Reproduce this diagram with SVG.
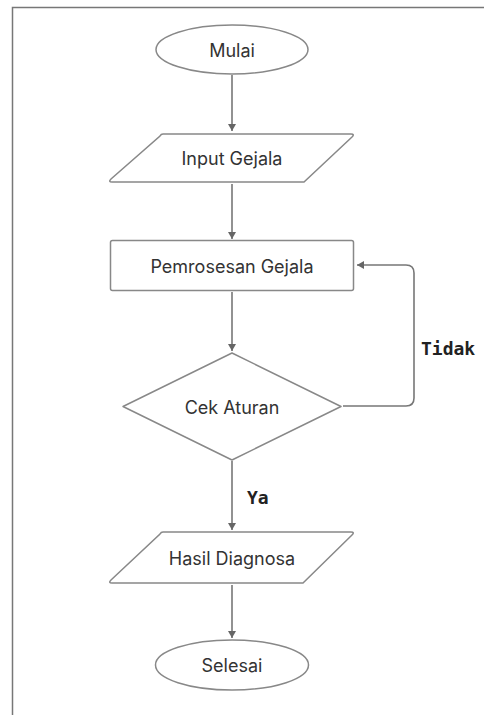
<svg xmlns="http://www.w3.org/2000/svg" width="484" height="715" viewBox="0 0 484 715">
<defs>
<marker id="arr" markerWidth="10" markerHeight="10" refX="8" refY="5" orient="auto" markerUnits="userSpaceOnUse">
<path d="M1,1 L8,5 L1,9 Z" fill="#666"/>
</marker>
<style>
.node{fill:#fff;stroke:#888;stroke-width:1.5}
.lbl{font-family:Inter,"Liberation Sans",sans-serif;font-size:18px;fill:#333;text-anchor:middle;dominant-baseline:central}
.edge{fill:none;stroke:#777;stroke-width:1.6}
.elbl{font-family:"DejaVu Sans Mono","Liberation Mono",monospace;font-size:18px;font-weight:bold;fill:#222}
</style>
</defs>
<rect x="0" y="0" width="484" height="715" fill="#fff"/>
<path d="M12.5,715 V7.5 H484" fill="none" stroke="#777" stroke-width="1.5"/>
<g id="edges">
<line class="edge" x1="232" y1="75" x2="232" y2="131" marker-end="url(#arr)"/>
<line class="edge" x1="232" y1="184" x2="232" y2="239" marker-end="url(#arr)"/>
<line class="edge" x1="232" y1="292" x2="232" y2="351" marker-end="url(#arr)"/>
<path class="edge" d="M343,406 H406 Q414,406 414,398 V273 Q414,265 406,265 H357" marker-end="url(#arr)"/>
<line class="edge" x1="232" y1="461" x2="232" y2="530" marker-end="url(#arr)"/>
<line class="edge" x1="232" y1="585" x2="232" y2="638" marker-end="url(#arr)"/>
<text class="elbl" x="421" y="355">Tidak</text>
<text class="elbl" x="247" y="504">Ya</text>
</g>
<g id="mulai">
<ellipse class="node" cx="232" cy="49.5" rx="76" ry="24.5"/>
<text class="lbl" x="232" y="50">Mulai</text>
</g>
<g id="input">
<path class="node" d="M163,134 H351 Q355,134 352,137 L304,182 H112 Q108,182 111,179 L160,136 Q161,134 163,134 Z"/>
<text class="lbl" x="232" y="158">Input Gejala</text>
</g>
<g id="proses">
<rect class="node" x="110.5" y="240.5" width="243" height="50" rx="2"/>
<text class="lbl" x="232" y="266">Pemrosesan Gejala</text>
</g>
<g id="cek">
<path class="node" d="M232,353 L341,406.5 L232,460 L123,406.5 Z" stroke-linejoin="round"/>
<text class="lbl" x="232" y="407">Cek Aturan</text>
</g>
<g id="hasil">
<path class="node" d="M163,532 H351 Q355,532 352,535 L303,583 H112 Q108,583 111,580 L160,534 Q161,532 163,532 Z"/>
<text class="lbl" x="232" y="558">Hasil Diagnosa</text>
</g>
<g id="selesai">
<ellipse class="node" cx="232" cy="665" rx="76.5" ry="25"/>
<text class="lbl" x="232" y="665">Selesai</text>
</g>
</svg>
